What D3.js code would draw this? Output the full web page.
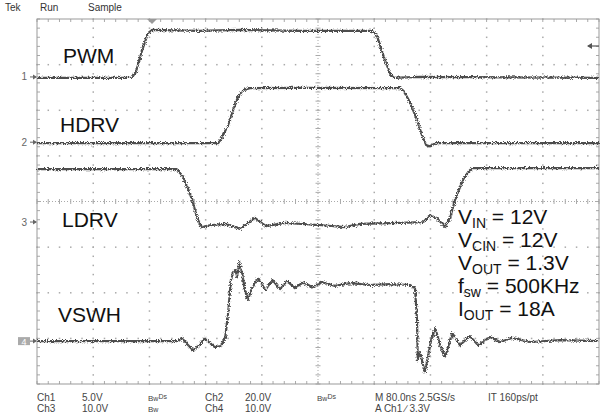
<!DOCTYPE html>
<html>
<head>
<meta charset="utf-8">
<script src="https://cdn.jsdelivr.net/npm/d3@7"></script>
<style>
  body { margin: 0; background: #fff; }
  svg { display: block; font-family: Arial, "Liberation Sans", sans-serif; }
</style>
</head>
<body>
<svg id="svg" width="602" height="416"></svg>
<script>
// time in ns (80 ns/div), values in volts
var pwmT  = [0, 135, 141, 150, 158, 164, 230, 290, 375, 478, 484, 495, 503, 508, 545, 800];
var pwmV  = [-0.1, -0.1, 0.6, 3.0, 4.8, 5.15, 5.05, 5.15, 5.05, 5.05, 4.5, 1.9, 0.3, -0.1, 0, -0.1];

var hdrvT = [0, 258, 263, 272, 279, 286, 293, 303, 375, 517, 522, 531, 540, 548, 554, 559, 568, 800];
var hdrvV = [-0.4, -0.4, 1.8, 7.5, 14, 19.7, 22.8, 23.7, 23.8, 23.7, 22.4, 17.5, 10.5, 3.1, -1.3, -1.8, -0.4, -0.4];

var ldrvT = [0, 199, 206, 214, 221, 228, 234, 246, 268, 289, 310, 326, 353, 406, 438, 460, 517, 550, 559, 569, 581, 588, 595, 606, 614, 619, 800];
var ldrvV = [11.6, 11.6, 10.3, 7.7, 4.8, 0.9, -1.1, -0.7, -0.4, -1.5, 0.9, -0.9, -0.2, -0.7, -1.1, -0.4, -0.2, 0, 1.5, 0.9, -1.1, 0.9, 4.8, 9.2, 11.0, 11.8, 11.8];

var vswhT = [0, 201, 206, 214, 222, 231, 239, 246, 253, 262, 268, 272, 276, 279, 282, 285, 288, 292, 296, 300, 306, 315, 325, 335, 346, 356, 367, 379, 392, 406, 424, 446, 474, 503, 531, 538, 541, 542, 545, 548, 552, 557, 561, 567, 574, 581, 591, 602, 616, 628, 645, 659, 676, 702, 745, 800];
var vswhV = [0, 0, 0.7, -0.7, -2.0, -0.9, 0.7, -0.4, -1.3, -1.1, 0.9, 6.1, 13.4, 15.1, 15.6, 14.2, 17.3, 14.9, 11.2, 9.0, 11.6, 13.8, 11.2, 13.4, 11.4, 13.2, 11.6, 12.9, 11.8, 12.9, 12.1, 12.7, 12.3, 12.5, 12.3, 11.6, 4.6, -4.2, -2.4, -4.2, -6.8, -3.1, 0.2, 2.8, -0.9, -3.5, 1.8, -0.9, 1.1, -0.9, 0.9, -0.2, 0.7, -0.2, 0.2, 0];

var traceNames = ["PWM", "HDRV", "LDRV", "VSWH"];
var voltsPerDiv = [5, 20, 10, 10];
var groundDiv = [2.73, 1.30, -0.45, -3.06];   // channel ground marker, divisions from centre

var notes = [["V", "IN", " = 12V"], ["V", "CIN", " = 12V"], ["V", "OUT", " = 1.3V"], ["f", "sw", " = 500KHz"], ["I", "OUT", " = 18A"]];

var svg = d3.select("#svg");

var x0 = 37, x1 = 599, y0 = 19, y1 = 384;
var gx = d3.scaleLinear().domain([0, 10]).range([x0, x1]);
var gy = d3.scaleLinear().domain([-4, 4]).range([y1, y0]);
var xs = d3.scaleLinear().domain([0, 800]).range([x0, x1]);

// noise filter to give the traces the scope look
var defs = svg.append("defs");
var f = defs.append("filter").attr("id", "fuzz")
    .attr("filterUnits", "userSpaceOnUse")
    .attr("x", 0).attr("y", 0).attr("width", 602).attr("height", 416);
f.append("feTurbulence").attr("type", "fractalNoise").attr("baseFrequency", 1.2)
    .attr("numOctaves", 2).attr("seed", 4).attr("result", "n");
f.append("feDisplacementMap").attr("in", "SourceGraphic").attr("in2", "n")
    .attr("scale", 4.5).attr("xChannelSelector", "R").attr("yChannelSelector", "G");

// graticule
var grid = svg.append("g").attr("fill", "#aaa");
var minorX = d3.range(0, 51).map(function(d) { return d / 5; });
var minorY = d3.range(-20, 21).map(function(d) { return d / 5; });

d3.range(1, 10).forEach(function(i) {
    if (i == 5) return;
    grid.selectAll(null).data(minorY).enter().append("rect")
        .attr("x", gx(i) - 0.7).attr("y", function(d) { return gy(d) - 0.7; })
        .attr("width", 1.5).attr("height", 1.5);
});
d3.range(-3, 4).forEach(function(j) {
    if (j == 0) return;
    grid.selectAll(null).data(minorX).enter().append("rect")
        .attr("x", function(d) { return gx(d) - 0.7; }).attr("y", gy(j) - 0.7)
        .attr("width", 1.5).attr("height", 1.5);
});

// centre cross with ticks
var cross = svg.append("g").attr("stroke", "#aaa").attr("stroke-width", 1);
cross.append("line").attr("x1", gx(5)).attr("x2", gx(5)).attr("y1", y0).attr("y2", y1)
    .attr("stroke-dasharray", "1,2");
cross.append("line").attr("x1", x0).attr("x2", x1).attr("y1", gy(0)).attr("y2", gy(0))
    .attr("stroke-dasharray", "1,2");
cross.selectAll(null).data(minorY).enter().append("line")
    .attr("x1", gx(5) - 2.5).attr("x2", gx(5) + 2.5)
    .attr("y1", function(d) { return gy(d); }).attr("y2", function(d) { return gy(d); });
cross.selectAll(null).data(minorX).enter().append("line")
    .attr("y1", gy(0) - 2.5).attr("y2", gy(0) + 2.5)
    .attr("x1", function(d) { return gx(d); }).attr("x2", function(d) { return gx(d); });

// frame ticks
var fr = svg.append("g").attr("stroke", "#aaa");
fr.selectAll(null).data(minorX).enter().append("line")
    .attr("x1", function(d) { return gx(d); }).attr("x2", function(d) { return gx(d); })
    .attr("y1", y0).attr("y2", y0 + 3);
fr.selectAll(null).data(minorX).enter().append("line")
    .attr("x1", function(d) { return gx(d); }).attr("x2", function(d) { return gx(d); })
    .attr("y1", y1).attr("y2", y1 - 3);
fr.selectAll(null).data(minorY).enter().append("line")
    .attr("y1", function(d) { return gy(d); }).attr("y2", function(d) { return gy(d); })
    .attr("x1", x0).attr("x2", x0 + 3);
fr.selectAll(null).data(minorY).enter().append("line")
    .attr("y1", function(d) { return gy(d); }).attr("y2", function(d) { return gy(d); })
    .attr("x1", x1).attr("x2", x1 - 3);
svg.append("rect").attr("x", x0).attr("y", y0).attr("width", x1 - x0).attr("height", y1 - y0)
    .attr("fill", "none").attr("stroke", "#999").attr("stroke-width", 1);

// traces
var series = [[pwmT, pwmV], [hdrvT, hdrvV], [ldrvT, ldrvV], [vswhT, vswhV]];
var traces = svg.append("g").attr("filter", "url(#fuzz)");

series.forEach(function(s, k) {
    var ys = d3.scaleLinear()
        .domain([(-4 - groundDiv[k]) * voltsPerDiv[k], (4 - groundDiv[k]) * voltsPerDiv[k]])
        .range([y1, y0]);
    var pts = s[0].map(function(t, i) { return [t, s[1][i]]; });
    var line = d3.line().x(function(d) { return xs(d[0]); }).y(function(d) { return ys(d[1]); });
    traces.append("path").datum(pts).attr("d", line)
        .attr("fill", "none").attr("stroke", "#4e4e4e").attr("stroke-width", 2.2)
        .attr("stroke-linejoin", "round");

    // ground marker on the left
    var g0 = ys(0);
    var m = svg.append("g").attr("fill", "#666").attr("stroke", "#666");
    if (k == 3) {
        m.append("rect").attr("x", 18).attr("y", g0 - 4).attr("width", 12).attr("height", 8)
            .attr("fill", "#aaa").attr("stroke", "none");
        m.append("text").attr("x", 24).attr("y", g0 + 3.5).attr("text-anchor", "middle")
            .attr("font-size", 9).attr("fill", "#fff").attr("stroke", "none").text("4");
    } else {
        m.append("text").attr("x", 27).attr("y", g0 + 3.5).attr("text-anchor", "end")
            .attr("font-size", 10).attr("stroke", "none").text(k + 1);
    }
    m.append("line").attr("x1", 30).attr("x2", 36).attr("y1", g0).attr("y2", g0).attr("stroke-width", 1);
    m.append("path").attr("d", "M33," + (g0 - 2.5) + "L37," + g0 + "L33," + (g0 + 2.5) + "Z").attr("stroke", "none");
});

// trace names
var namePos = [[63, 63], [60, 132], [62, 227], [58, 322]];
svg.append("g").selectAll("text").data(traceNames).enter().append("text")
    .attr("x", function(d, i) { return namePos[i][0]; })
    .attr("y", function(d, i) { return namePos[i][1]; })
    .attr("font-size", 21).attr("fill", "#111").text(function(d) { return d; });

// operating conditions
var nt = svg.append("g").attr("fill", "#111");
notes.forEach(function(n, i) {
    var t = nt.append("text").attr("x", 458).attr("y", 224 + i * 23).attr("font-size", 21);
    t.append("tspan").text(n[0]);
    t.append("tspan").attr("font-size", 14).attr("dy", 4).text(n[1]);
    t.append("tspan").attr("dy", -4).text(n[2]);
});

// trigger markers
svg.append("path").attr("d", "M147,19L157,19L152,24Z").attr("fill", "#999");
svg.append("line").attr("x1", 588).attr("x2", 599).attr("y1", 46).attr("y2", 46)
    .attr("stroke", "#555").attr("stroke-width", 1.2);
svg.append("path").attr("d", "M587,46L592,43L592,49Z").attr("fill", "#555");

// header / readout text
var hdr = svg.append("g").attr("font-size", 10).attr("fill", "#333");
hdr.append("text").attr("x", 5).attr("y", 11).text("Tek");
hdr.append("text").attr("x", 40).attr("y", 11).text("Run");
hdr.append("text").attr("x", 88).attr("y", 11).text("Sample");

var readout = [
    [37, 401, "Ch1"], [82, 401, "5.0V"], [205, 401, "Ch2"], [245, 401, "20.0V"],
    [375, 401, "M 80.0ns 2.5GS/s"], [488, 401, "IT 160ps/pt"],
    [37, 412, "Ch3"], [82, 412, "10.0V"], [205, 412, "Ch4"], [245, 412, "10.0V"],
    [375, 412, "A  Ch1  \u2215  3.3V"]
];
var ro = svg.append("g").attr("font-size", 10).attr("fill", "#444");
ro.selectAll("text").data(readout).enter().append("text")
    .attr("x", function(d) { return d[0]; }).attr("y", function(d) { return d[1]; })
    .text(function(d) { return d[2]; });
var bw = [[148, 401, "Ds"], [317, 401, "Ds"], [148, 412, ""]];
bw.forEach(function(b) {
    var t = ro.append("text").attr("x", b[0]).attr("y", b[1]).attr("font-size", 8);
    t.append("tspan").text("B");
    t.append("tspan").attr("font-size", 7).text("w");
    t.append("tspan").attr("font-size", 7).attr("dy", -2).text(b[2]);
});
</script>
</body>
</html>
